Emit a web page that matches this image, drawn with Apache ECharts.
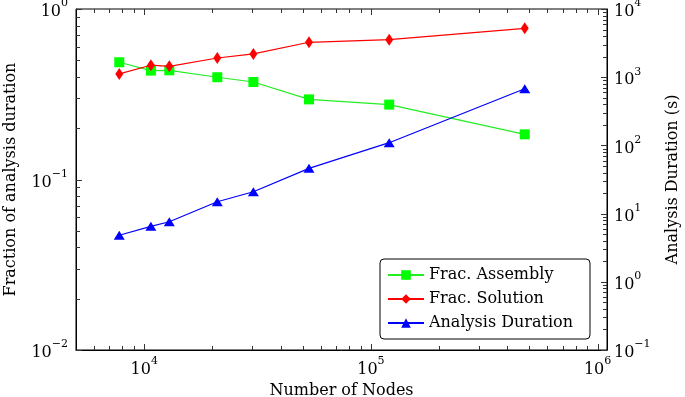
<!DOCTYPE html>
<html>
<head>
<meta charset="utf-8">
<script src="https://cdn.jsdelivr.net/npm/echarts@6/dist/echarts.min.js"></script>
<style>
  html, body { margin: 0; padding: 0; background: #fff; }
  #chart { width: 685px; height: 397px; }
</style>
</head>
<body>
<div id="chart"></div>
<script>
// number of nodes (x, log)
const nodes = [7760, 10700, 12900, 21000, 30300, 53300, 120400, 477000];
// left axis: fractions of analysis duration
const fracAssembly = [0.487, 0.435, 0.437, 0.398, 0.373, 0.295, 0.275, 0.184];
const fracSolution = [0.416, 0.468, 0.461, 0.516, 0.545, 0.638, 0.661, 0.770];
// right axis: analysis duration in seconds
const duration = [4.81, 6.51, 7.60, 14.9, 20.9, 46.1, 109.6, 678];

const FONT = 'DejaVu Serif';

// tick positions (2..9 x 10^k minors, powers of ten majors)
const decadeTicks = (lo, hi) => {
  const out = [];
  for (let e = lo; e < hi; e++) {
    for (let m = 1; m <= 9; m++) out.push(m * Math.pow(10, e));
  }
  out.push(Math.pow(10, hi));
  return out;
};
const xTicks = decadeTicks(3, 6).filter((v) => v > 5000);
const yLeftTicks = decadeTicks(-2, 0);
const yRightTicks = decadeTicks(-1, 4);

const isPow10 = (v) => {
  const l = Math.log10(v);
  return Math.abs(l - Math.round(l)) < 1e-6;
};

const powLabel = (v) => {
  if (!isPow10(v)) return '';
  const e = Math.round(Math.log10(v));
  return '{b|10}{s|' + (e < 0 ? '\u2212' + (-e) : e) + '}';
};

const labelRich = {
  b: { fontFamily: FONT, fontSize: 16, color: '#000', lineHeight: 22, verticalAlign: 'bottom' },
  s: { fontFamily: FONT, fontSize: 11, color: '#000', lineHeight: 22, verticalAlign: 'top' },
};

const TICK = { stroke: '#333', lineWidth: 1 };
const line = (x1, y1, x2, y2) => ({ type: 'line', shape: { x1, y1, x2, y2 }, style: TICK, silent: true });

const chart = echarts.init(document.getElementById('chart'));
chart.setOption({
  animation: false,
  backgroundColor: '#fff',
  grid: {
    left: 76, right: 78, top: 9, bottom: 47,
    containLabel: false, outerBoundsMode: 'none',
    show: true, borderColor: '#000', borderWidth: 1,
  },
  legend: {
    data: ['Frac. Assembly', 'Frac. Solution', 'Analysis Duration'],
    orient: 'vertical',
    left: 380,
    top: 259,
    padding: [6, 17, 6, 7],
    itemGap: 4,
    itemWidth: 36,
    itemHeight: 12,
    borderColor: '#000',
    borderWidth: 1,
    borderRadius: 4,
    textStyle: { fontFamily: FONT, fontSize: 16, color: '#000', lineHeight: 20 },
  },
  xAxis: {
    type: 'log',
    min: 5000,
    max: 1.1e6,
    name: 'Number of Nodes',
    nameLocation: 'middle',
    nameGap: 25,
    nameTextStyle: { fontFamily: FONT, fontSize: 16, color: '#000' },
    axisLine: { lineStyle: { color: '#000' } },
    axisTick: { show: false },
    splitLine: { show: false },
    axisLabel: { formatter: powLabel, rich: labelRich, margin: 6 },
  },
  yAxis: [
    {
      type: 'log',
      min: 0.01,
      max: 1,
      position: 'left',
      name: 'Fraction of analysis duration',
      nameLocation: 'middle',
      nameRotate: 90,
      nameGap: 57,
      nameTextStyle: { fontFamily: FONT, fontSize: 16, color: '#000' },
      axisLine: { show: true, lineStyle: { color: '#000' } },
      axisTick: { show: false },
      splitLine: { show: false },
      axisLabel: { formatter: powLabel, rich: labelRich, margin: 8 },
    },
    {
      type: 'log',
      min: 0.1,
      max: 1e4,
      position: 'right',
      name: 'Analysis Duration (s)',
      nameLocation: 'middle',
      nameRotate: 90,
      nameGap: 58,
      nameTextStyle: { fontFamily: FONT, fontSize: 16, color: '#000' },
      axisLine: { show: true, lineStyle: { color: '#000' } },
      axisTick: { show: false },
      splitLine: { show: false },
      axisLabel: { formatter: powLabel, rich: labelRich, margin: 7 },
    },
  ],
  series: [
    {
      name: 'Frac. Assembly',
      type: 'line',
      yAxisIndex: 0,
      data: nodes.map((n, i) => [n, fracAssembly[i]]),
      color: '#00ff00',
      lineStyle: { width: 1.2, color: '#22ee22' },
      symbol: 'rect',
      symbolSize: 10,
      itemStyle: { color: '#00ff00' },
      z: 3,
    },
    {
      name: 'Frac. Solution',
      type: 'line',
      yAxisIndex: 0,
      data: nodes.map((n, i) => [n, fracSolution[i]]),
      color: '#ff0000',
      lineStyle: { width: 1.2, color: '#ff0000' },
      symbol: 'diamond',
      symbolSize: [8, 12],
      itemStyle: { color: '#ff0000' },
      z: 4,
    },
    {
      name: 'Analysis Duration',
      type: 'line',
      yAxisIndex: 1,
      data: nodes.map((n, i) => [n, duration[i]]),
      color: '#0000ff',
      lineStyle: { width: 1.2, color: '#0000ff' },
      symbol: 'triangle',
      symbolSize: [11, 9],
      itemStyle: { color: '#0000ff' },
      z: 5,
    },
    // tick marks, drawn inside the frame like pgfplots
    {
      type: 'custom',
      silent: true,
      yAxisIndex: 0,
      data: xTicks.map((v) => [v, 0.1]),
      renderItem: (params, api) => {
        const cs = params.coordSys;
        const px = Math.round(api.coord([api.value(0), 0.1])[0]) + 0.5;
        const len = isPow10(api.value(0)) ? 6 : 4;
        const b = cs.y + cs.height;
        return { type: 'group', children: [line(px, b, px, b - len), line(px, cs.y, px, cs.y + len)] };
      },
      z: 6,
    },
    {
      type: 'custom',
      silent: true,
      yAxisIndex: 0,
      data: yLeftTicks.map((v) => [1e4, v]),
      renderItem: (params, api) => {
        const cs = params.coordSys;
        const py = Math.round(api.coord([1e4, api.value(1)])[1]) + 0.5;
        const len = isPow10(api.value(1)) ? 6 : 4;
        return line(cs.x, py, cs.x + len, py);
      },
      z: 6,
    },
    {
      type: 'custom',
      silent: true,
      yAxisIndex: 1,
      data: yRightTicks.map((v) => [1e4, v]),
      renderItem: (params, api) => {
        const cs = params.coordSys;
        const py = Math.round(api.coord([1e4, api.value(1)])[1]) + 0.5;
        const len = isPow10(api.value(1)) ? 6 : 4;
        const r = cs.x + cs.width;
        return line(r, py, r - len, py);
      },
      z: 6,
    },
  ],
});
</script>
</body>
</html>
